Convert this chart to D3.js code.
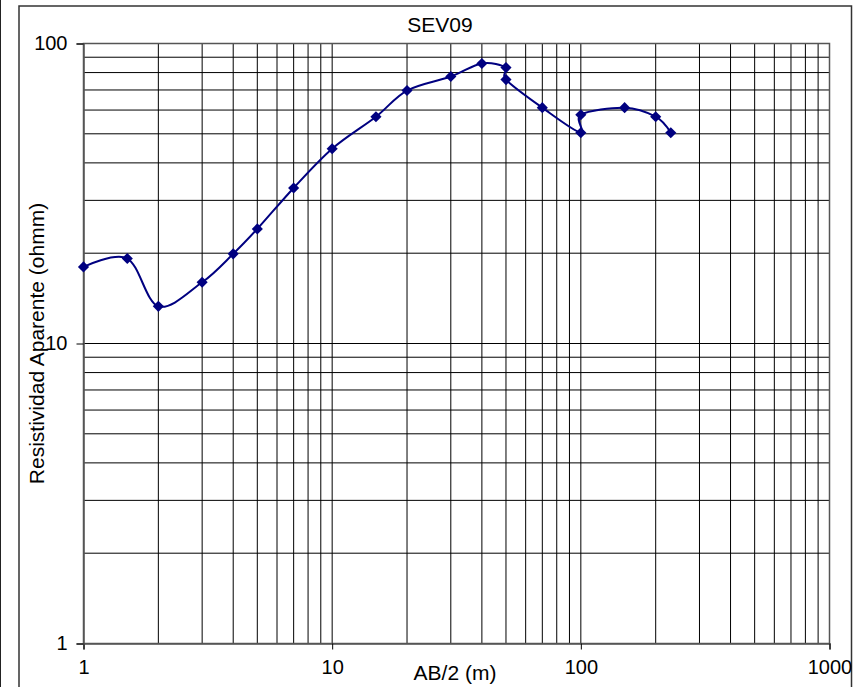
<!DOCTYPE html>
<html>
<head>
<meta charset="utf-8">
<script src="https://cdn.jsdelivr.net/npm/d3@7"></script>
<style>
  html, body { margin: 0; padding: 0; background: #fff; }
  svg { display: block; }
  text { font-family: "Liberation Sans", Arial, sans-serif; fill: #000; }
</style>
</head>
<body>
<svg id="chart" width="864" height="687"></svg>
<script>
// ---- data ----
const title = "SEV09";
const xLabel = "AB/2 (m)";
const yLabel = "Resistividad Aparente (ohmm)";
const abHalf = [1, 1.5, 2, 3, 4, 5, 7, 10, 15, 20, 30, 40, 50, 50, 70, 100, 100, 150, 200, 230];
const resistivity = [18, 19.2, 13.3, 16, 19.9, 24.1, 33, 44.6, 57, 69.7, 77.6, 85.8, 83.1, 75.8, 61.1, 50.4, 57.9, 61.1, 57, 50.4];
const xTicks = [1, 10, 100, 1000];
const yTicks = [1, 10, 100];
const xDomain = [1, 1000];
const yDomain = [1, 100];

// ---- layout ----
const svg = d3.select("#chart");
const pL = 83.5, pR = 829.5, pT = 43.5, pB = 643.5;

const x = d3.scaleLog().domain(xDomain).range([pL, pR]);
const y = d3.scaleLog().domain(yDomain).range([pB, pT]);

// image-edge line and chart box
svg.append("line").attr("x1", 0.5).attr("x2", 0.5).attr("y1", 0).attr("y2", 687)
  .attr("stroke", "#222").attr("stroke-width", 1);
svg.append("rect").attr("x", 19).attr("y", 6).attr("width", 832.5).attr("height", 700)
  .attr("fill", "none").attr("stroke", "#333").attr("stroke-width", 1.5);

// minor + major gridlines
function logGrid(domain) {
  const out = [];
  for (let d = domain[0]; d < domain[1]; d *= 10) {
    for (let k = 1; k <= 10; k++) out.push(d * k);
  }
  return Array.from(new Set(out.map(v => +v.toPrecision(6))));
}
const gx = logGrid(xDomain), gy = logGrid(yDomain);
const grid = svg.append("g").attr("stroke", "#000").attr("stroke-width", 1);
grid.selectAll("line.v").data(gx).join("line").attr("class", "v")
  .attr("x1", d => x(d)).attr("x2", d => x(d)).attr("y1", pT).attr("y2", pB);
grid.selectAll("line.h").data(gy).join("line").attr("class", "h")
  .attr("y1", d => y(d)).attr("y2", d => y(d)).attr("x1", pL).attr("x2", pR);

// plot border
svg.append("rect").attr("x", pL).attr("y", pT).attr("width", pR - pL).attr("height", pB - pT)
  .attr("fill", "none").attr("stroke", "#555").attr("stroke-width", 1.5);

// axes
const xAxis = d3.axisBottom(x).tickValues(xTicks).tickFormat(d3.format("d")).tickSize(6).tickPadding(10);
const gX = svg.append("g").attr("transform", `translate(0,${pB})`).call(xAxis);
gX.select(".domain").attr("stroke", "#555").attr("stroke-width", 1.5);
gX.selectAll(".tick line").attr("stroke", "#000");
gX.selectAll(".tick text").attr("font-size", 20).attr("font-family", "Liberation Sans, Arial, sans-serif");

const yAxis = d3.axisLeft(y).tickValues(yTicks).tickFormat(d3.format("d")).tickSize(7).tickPadding(9);
const gY = svg.append("g").attr("transform", `translate(${pL},0)`).call(yAxis);
gY.select(".domain").attr("stroke", "#555").attr("stroke-width", 1.5);
gY.selectAll(".tick line").attr("stroke", "#000");
gY.selectAll(".tick text").attr("font-size", 20).attr("font-family", "Liberation Sans, Arial, sans-serif");

// titles
svg.append("text").attr("x", 440).attr("y", 31.5).attr("text-anchor", "middle")
  .attr("font-size", 21).text(title);
svg.append("text").attr("x", 455).attr("y", 680).attr("text-anchor", "middle")
  .attr("font-size", 21).text(xLabel);
svg.append("text").attr("transform", `translate(44,${(pT + pB) / 2}) rotate(-90)`)
  .attr("text-anchor", "middle").attr("font-size", 21).text(yLabel);

// series
const pts = abHalf.map((v, i) => [v, resistivity[i]]);
const line = d3.line().x(d => x(d[0])).y(d => y(d[1])).curve(d3.curveCardinal.tension(0));
svg.append("path").datum(pts).attr("d", line)
  .attr("fill", "none").attr("stroke", "#000080").attr("stroke-width", 2);

const sym = d3.symbol().type(d3.symbolSquare).size(62);
svg.append("g").selectAll("path").data(pts).join("path")
  .attr("d", sym)
  .attr("transform", d => `translate(${x(d[0])},${y(d[1])}) rotate(45)`)
  .attr("fill", "#000080");
</script>
</body>
</html>
